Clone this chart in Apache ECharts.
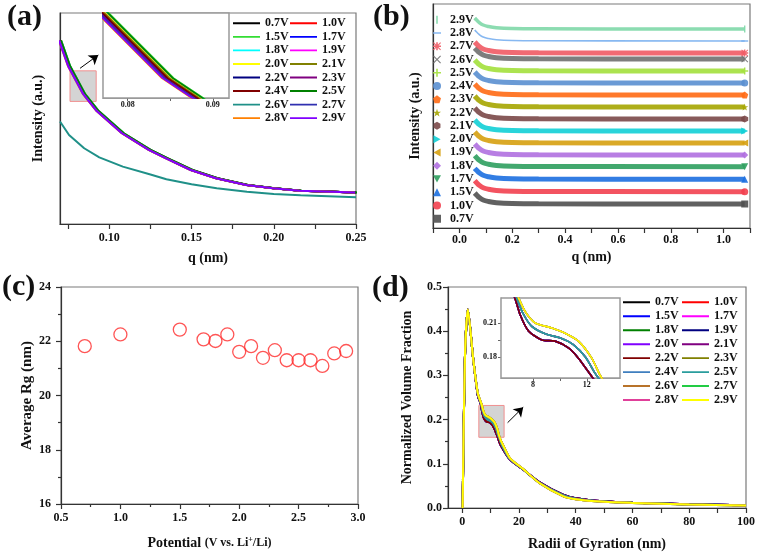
<!DOCTYPE html>
<html><head><meta charset="utf-8">
<script src="https://cdn.jsdelivr.net/npm/echarts@6/dist/echarts.min.js"></script>
<style>html,body{margin:0;padding:0;background:#fff}#c{width:765px;height:557px}</style>
</head><body><div id="c"></div>
<script>
// ---------- shared ----------
const VOLTS = ['0.7V','1.0V','1.5V','1.7V','1.8V','1.9V','2.0V','2.1V','2.2V','2.3V','2.4V','2.5V','2.6V','2.7V','2.8V','2.9V'];

// ---------- (a) SAXS curves ----------
const qA   = [0.07, 0.0755, 0.0847, 0.0929, 0.1082, 0.1245, 0.1347, 0.15, 0.1653, 0.1837, 0.20, 0.2163, 0.25];
const yA   = [87, 74.9, 61.5, 53.5, 43.0, 35.1, 31.2, 25.6, 21.7, 18.5, 16.9, 15.8, 14.9];
const qA26 = [0.07, 0.0755, 0.0847, 0.0939, 0.1082, 0.1245, 0.1347, 0.15, 0.1653, 0.1837, 0.20, 0.2163, 0.25];
const yA26 = [48.6, 42.2, 35.9, 31.6, 27.2, 23.6, 21.2, 18.8, 16.9, 15.3, 14.2, 13.6, 12.7];
// small horizontal offsets of each curve
const shiftA = [-0.0001, 0.0001, 0.0007, 0.0004, 0.0005, 0.0003, 0.0003, 0.0002, -0.0002, -0.0003, 0, 0.0006, 0, -0.0004, -0.0007, -0.0006];
const colorsA = ['#000000','#ff0000','#33dd33','#0000ff','#00ffff','#ff00ff','#ffff00','#808000','#000080','#800080','#800000','#008000','#1f9088','#3030b0','#ff8000','#8000ff'];
const ticksA = [0.075, 0.1, 0.125, 0.15, 0.175, 0.2, 0.225, 0.25];
const labelsA = [0.10, 0.15, 0.20, 0.25];

// ---------- (b) stacked curves ----------
const qB  = [0.058, 0.065, 0.075, 0.09, 0.11, 0.14, 0.2, 0.3, 1.08];
const b07 = [35, 33, 30.5, 28, 26.5, 25.3, 24.5, 24.2, 24];
const b10 = [47.3, 45.3, 42.8, 40.3, 38.8, 37.6, 36.8, 36.5, 36.3];
const b15 = [59.7, 57.7, 55.2, 52.7, 51.2, 50, 49.2, 48.9, 48.7];
const b17 = [72.3, 70.3, 67.8, 65.3, 63.8, 62.6, 61.8, 61.5, 61.3];
const b18 = [84, 82, 79.5, 77, 75.5, 74.3, 73.5, 73.2, 73];
const b19 = [96, 94, 91.5, 89, 87.5, 86.3, 85.5, 85.2, 85];
const b20 = [108, 106, 103.5, 101, 99.5, 98.3, 97.5, 97.2, 97];
const b21 = [120, 118, 115.5, 113, 111.5, 110.3, 109.5, 109.2, 109];
const b22 = [132, 130, 127.5, 125, 123.5, 122.3, 121.5, 121.2, 121];
const b23 = [144, 142, 139.5, 137, 135.5, 134.3, 133.5, 133.2, 133];
const b24 = [156, 154, 151.5, 149, 147.5, 146.3, 145.5, 145.2, 145];
const b25 = [168, 166, 163.5, 161, 159.5, 158.3, 157.5, 157.2, 157];
const b26 = [180, 178, 175.5, 173, 171.5, 170.3, 169.5, 169.2, 169];
const b27 = [186, 184, 181.5, 179, 177.5, 176.3, 175.5, 175.2, 175];
const b28 = [198, 196, 193.5, 191, 189.5, 188.3, 187.5, 187.2, 187];
const b29 = [210, 208, 205.5, 203, 201.5, 200.3, 199.5, 199.2, 199];
const yB = [b07, b10, b15, b17, b18, b19, b20, b21, b22, b23, b24, b25, b26, b27, b28, b29];
const colorsB = ['#505050','#f2404f','#1c6fe0','#2e9e5e','#b070e0','#d6a010','#12cfd6','#7a4848','#a5a500','#ff6a14','#5a8fd0','#a3e03c','#707070','#f05a64','#7ab0f0','#80d8a8'];
const widthB = [5,5,5,5,5,5,5,5,5,5,5,5,5,5,1.6,3.5];
const ticksB = [-0.1, 0, 0.1, 0.2, 0.3, 0.4, 0.5, 0.6, 0.7, 0.8, 0.9, 1.0, 1.1];
const labelsB = [0, 0.2, 0.4, 0.6, 0.8, 1.0];

// ---------- (c) average Rg ----------
const potC = [0.7, 1.0, 1.5, 1.7, 1.8, 1.9, 2.0, 2.1, 2.2, 2.3, 2.4, 2.5, 2.6, 2.7, 2.8, 2.9];
const rgC  = [21.82, 22.25, 22.43, 22.07, 22.01, 22.25, 21.61, 21.82, 21.39, 21.67, 21.30, 21.30, 21.30, 21.09, 21.55, 21.64];

// ---------- (d) size distributions ----------
const dLowX  = [0.15, 0.95, 2.0, 3.9, 5.5, 6.56, 7.06, 7.67, 8.67, 9.65, 10.64, 11.38, 12.12, 12.6, 13.5, 16.8, 21.5, 27.3, 35.5, 40, 50, 60, 80, 100];
const dLowY  = [0, 0.336, 0.449, 0.336, 0.255, 0.235, 0.217, 0.203, 0.195, 0.194, 0.188, 0.179, 0.167, 0.159, 0.143, 0.110, 0.087, 0.058, 0.030, 0.022, 0.015, 0.012, 0.0083, 0.006];
const dMidX  = [0.15, 0.95, 2.0, 3.9, 5.5, 6.68, 7.24, 7.92, 9.0, 10.0, 11.0, 11.9, 12.6, 13.2, 14.0, 16.8, 21.5, 27.3, 35.5, 40, 50, 60, 80, 100];
const dMidY  = [0, 0.336, 0.449, 0.336, 0.258, 0.235, 0.219, 0.207, 0.200, 0.197, 0.191, 0.180, 0.166, 0.156, 0.142, 0.111, 0.087, 0.057, 0.029, 0.021, 0.0145, 0.012, 0.0082, 0.006];
const dHighX = [0.15, 0.95, 2.0, 3.9, 5.5, 6.81, 7.43, 8.17, 9.41, 10.39, 11.38, 12.37, 12.99, 13.6, 14.5, 16.8, 21.5, 27.3, 35.5, 40, 50, 60, 80, 100];
const dHighY = [0, 0.336, 0.449, 0.336, 0.260, 0.235, 0.220, 0.210, 0.2056, 0.201, 0.194, 0.179, 0.164, 0.153, 0.141, 0.113, 0.088, 0.056, 0.027, 0.020, 0.014, 0.0115, 0.008, 0.0058];
const groupD = ['low','low','low','mid','mid','low','low','mid','low','high','mid','mid','high','high','high','high'];
const colorsD = ['#000000','#ff0000','#0000ff','#ff00ff','#008000','#000080','#8000ff','#800080','#800000','#808000','#3f7fbf','#2a9d9d','#b8732a','#22cc44','#e0409a','#ffff00'];
const ticksD = [0, 10, 20, 30, 40, 50, 60, 70, 80, 90, 100];
const labelsD = [0, 20, 40, 60, 80, 100];

// ---------- styling helpers ----------
const FONT = '"Liberation Serif","Times New Roman",serif';
const AX = '#333';
const lbl = (size) => ({fontFamily: FONT, fontWeight: 'bold', fontSize: size, color: '#111'});
function axisBase(extra) {
  return Object.assign({
    type: 'value',
    axisLine: {show: true, onZero: false, lineStyle: {color: AX, width: 1.2}},
    axisTick: {show: true, inside: false, length: 5, lineStyle: {color: AX, width: 1.2}},
    axisLabel: Object.assign({margin: 8}, lbl(12)),
    splitLine: {show: false},
    nameLocation: 'middle',
    nameTextStyle: lbl(14)
  }, extra);
}

const symB = [
  'rect', 'circle', 'triangle',
  'path://M0,0L10,0L5,9Z',
  'diamond',
  'path://M10,0L10,10L1,5Z',
  'path://M0,0L9,5L0,10Z',
  'path://M5,0L9.33,2.5L9.33,7.5L5,10L0.67,7.5L0.67,2.5Z',
  'path://M5,0L6.2,3.6L10,3.6L7,5.9L8.1,9.5L5,7.3L1.9,9.5L3,5.9L0,3.6L3.8,3.6Z',
  'path://M5,0L10,3.8L8.1,10L1.9,10L0,3.8Z',
  'circle',
  'path://M4,0H6V4H10V6H6V10H4V6H0V4H4Z',
  'path://M1,0L5,4L9,0L10,1L6,5L10,9L9,10L5,6L1,10L0,9L4,5L0,1Z',
  'path://M1,0L5,4L9,0L10,1L6,5L10,9L9,10L5,6L1,10L0,9L4,5L0,1Z M4,0H6V10H4Z M0,4H10V6H0Z',
  'path://M0,0L0.05,0L0,0.05Z M0,4H10V6H0Z M10,10L9.95,10L10,9.95Z',
  'path://M0,0L0.05,0L0,0.05Z M4,0H6V10H4Z M10,10L9.95,10L10,9.95Z'
];
// plain line legend icon (bar across the item, with tiny corner specks to keep the box)
const LINE_ICON = 'path://M0,0L0.01,0L0,0.01Z M0,4.2H10V5.8H0Z M10,10L9.99,10L10,9.99Z';

const series = [];
// (a) main + inset
VOLTS.forEach((v, i) => {
  const is26 = v === '2.6V';
  const xs = is26 ? qA26 : qA, ys = is26 ? yA26 : yA;
  const data = xs.map((q, j) => [q + shiftA[i], ys[j]]);
  series.push({type: 'line', name: 'a_' + v, xAxisIndex: 0, yAxisIndex: 0, data, symbol: 'none', z: 2,
    color: colorsA[i], itemStyle: {color: colorsA[i]}, lineStyle: {width: 2, color: colorsA[i]}});
  series.push({type: 'line', name: 'ai_' + v, xAxisIndex: 1, yAxisIndex: 1, data, symbol: 'none', z: 3,
    color: colorsA[i], lineStyle: {width: 1.6, color: colorsA[i]}});
});
// (a) zoom box + arrow
series.push({type: 'line', name: 'a_box', xAxisIndex: 0, yAxisIndex: 0, data: [], z: 1, silent: true,
  markArea: {silent: true, itemStyle: {color: 'rgba(205,205,205,0.85)', borderColor: '#f09090', borderWidth: 1},
    data: [[{coord: [0.0761, 72.6]}, {coord: [0.092, 58.1]}]]},
  markLine: {silent: true, symbol: ['none', 'arrow'], symbolSize: 9, label: {show: false},
    lineStyle: {color: '#000', width: 1, type: 'solid'},
    data: [[{coord: [0.0822, 73.8]}, {coord: [0.0933, 80.1]}]]}
});

// (b)
VOLTS.forEach((v, i) => {
  const last = qB.length - 1;
  const data = qB.map((q, j) => j === last ? {value: [q, yB[i][j]], symbolSize: 7} : [q, yB[i][j]]);
  series.push({type: 'line', name: 'b_' + v, xAxisIndex: 2, yAxisIndex: 2, data, smooth: 0.4,
    symbol: symB[i], symbolSize: 0, showSymbol: true, showAllSymbol: true,
    color: colorsB[i], itemStyle: {color: colorsB[i], opacity: 0.9},
    lineStyle: {width: widthB[i], color: colorsB[i], opacity: 0.9}});
});

// (c)
series.push({type: 'scatter', name: 'c_rg', xAxisIndex: 3, yAxisIndex: 3,
  data: potC.map((p, i) => [p, rgC[i]]), symbol: 'circle', symbolSize: 13,
  itemStyle: {color: 'rgba(255,255,255,0)', borderColor: '#ff2a2a', borderWidth: 1.3}});

// (d) main + inset
const groups = {low: [dLowX, dLowY], mid: [dMidX, dMidY], high: [dHighX, dHighY]};
VOLTS.forEach((v, i) => {
  const g = groups[groupD[i]];
  const data = g[0].map((x, j) => [x, g[1][j]]);
  series.push({type: 'line', name: 'd_' + v, xAxisIndex: 4, yAxisIndex: 4, data, symbol: 'none', z: 2,
    smooth: 0.25, color: colorsD[i], itemStyle: {color: colorsD[i]}, lineStyle: {width: 2, color: colorsD[i]}});
  series.push({type: 'line', name: 'di_' + v, xAxisIndex: 5, yAxisIndex: 5, data, symbol: 'none', z: 3,
    smooth: 0.25, color: colorsD[i], lineStyle: {width: 1.6, color: colorsD[i]}});
});
series.push({type: 'line', name: 'd_box', xAxisIndex: 4, yAxisIndex: 4, data: [], z: 1, silent: true,
  markArea: {silent: true, itemStyle: {color: 'rgba(205,205,205,0.85)', borderColor: '#f09090', borderWidth: 1},
    data: [[{coord: [5.86, 0.232]}, {coord: [14.77, 0.160]}]]},
  markLine: {silent: true, symbol: ['none', 'arrow'], symbolSize: 9, label: {show: false},
    lineStyle: {color: '#000', width: 1, type: 'solid'},
    data: [[{coord: [16.0, 0.193]}, {coord: [21.5, 0.228]}]]}
});

const fmtName = n => n.split('_')[1];
function lineLegend(prefix, idxs, left, top, gap) {
  return {orient: 'vertical', left, top, padding: 0, itemWidth: 27, itemHeight: 12, itemGap: gap,
    symbolKeepAspect: false,
    selectedMode: false, formatter: fmtName,
    textStyle: Object.assign({lineHeight: 12}, lbl(12)),
    data: idxs.map(i => ({name: prefix + VOLTS[i], icon: LINE_ICON}))};
}
const col1 = [0, 2, 4, 6, 8, 10, 12, 14], col2 = [1, 3, 5, 7, 9, 11, 13, 15];
const legendB = {orient: 'vertical', left: 433, top: 13.7, padding: 0, itemWidth: 8, itemHeight: 8, itemGap: 1.27,
  selectedMode: false, formatter: fmtName,
  textStyle: Object.assign({lineHeight: 12, padding: [0, 0, 0, 4]}, lbl(12)),
  data: VOLTS.map((v, i) => ({name: 'b_' + v, icon: symB[i]})).reverse()};

const gridStyle = {show: true, borderColor: '#7a7a7a', borderWidth: 1.2, backgroundColor: 'rgba(0,0,0,0)'};
const insetStyle = {show: true, borderColor: '#9a9a9a', borderWidth: 1.5, backgroundColor: '#fff'};

const option = {
  animation: false,
  backgroundColor: '#fff',
  grid: [
    Object.assign({left: 60, top: 13, width: 296, height: 211}, gridStyle),
    Object.assign({left: 103, top: 13, width: 126, height: 85, z: 3}, insetStyle),
    Object.assign({left: 433, top: 4, width: 317, height: 224}, gridStyle),
    Object.assign({left: 61, top: 287, width: 297, height: 217}, gridStyle),
    Object.assign({left: 448, top: 287, width: 298, height: 221}, gridStyle),
    Object.assign({left: 501, top: 298, width: 119, height: 80, z: 3}, insetStyle)
  ],
  xAxis: [
    axisBase({gridIndex: 0, min: 0.07, max: 0.25, name: 'q (nm)', nameGap: 27,
      axisLabel: Object.assign({margin: 8, customValues: labelsA, formatter: v => v.toFixed(2)}, lbl(12)),
      axisTick: {show: true, length: 5, customValues: ticksA, lineStyle: {color: AX, width: 1.2}}}),
    axisBase({gridIndex: 1, min: 0.0771, max: 0.0919,
      axisLine: {show: true, onZero: false, lineStyle: {color: '#9a9a9a', width: 1.2}},
      axisLabel: Object.assign({margin: 3, customValues: [0.08, 0.09], formatter: v => v.toFixed(2)}, lbl(8)),
      axisTick: {show: true, length: 3, customValues: [0.08, 0.085, 0.09], lineStyle: {color: '#666', width: 1}}}),
    axisBase({gridIndex: 2, min: -0.1, max: 1.1, name: 'q (nm)', nameGap: 22,
      axisLabel: Object.assign({margin: 6, customValues: labelsB, formatter: v => v.toFixed(1)}, lbl(12)),
      axisTick: {show: true, length: 5, customValues: ticksB, lineStyle: {color: AX, width: 1.2}}}),
    axisBase({gridIndex: 3, min: 0.5, max: 3.0, interval: 0.5, nameGap: 32,
      name: '{a|Potential }{b|(V vs. Li}{s|+}{b|/Li)}',
      nameTextStyle: {rich: {a: lbl(14), b: lbl(12), s: Object.assign({verticalAlign: 'top', lineHeight: 8}, lbl(8))}},
      axisLabel: Object.assign({margin: 8, formatter: v => v.toFixed(1)}, lbl(12)),
      minorTick: {show: true, splitNumber: 2, length: 3, lineStyle: {color: AX, width: 1.2}}}),
    axisBase({gridIndex: 4, min: -5, max: 100, name: 'Radii of Gyration (nm)', nameGap: 29,
      axisLabel: Object.assign({margin: 8, customValues: labelsD}, lbl(12)),
      axisTick: {show: true, length: 5, customValues: ticksD, lineStyle: {color: AX, width: 1.2}}}),
    axisBase({gridIndex: 5, min: 5.63, max: 14.47,
      axisLine: {show: true, onZero: false, lineStyle: {color: '#9a9a9a', width: 1.2}},
      axisLabel: Object.assign({margin: 3, customValues: [8, 12]}, lbl(8)),
      axisTick: {show: true, length: 3, customValues: [8, 10, 12], lineStyle: {color: '#666', width: 1}}})
  ],
  yAxis: [
    axisBase({gridIndex: 0, min: 0, max: 100, name: 'Intensity (a.u.)', nameGap: 15,
      axisLabel: {show: false}, axisTick: {show: false}}),
    axisBase({gridIndex: 1, min: 58.1, max: 72.6, axisLabel: {show: false}, axisTick: {show: false},
      axisLine: {show: true, onZero: false, lineStyle: {color: '#9a9a9a', width: 1.2}}}),
    axisBase({gridIndex: 2, min: 0, max: 224, name: 'Intensity (a.u.)', nameGap: 11,
      axisLabel: {show: false}, axisTick: {show: false}}),
    axisBase({gridIndex: 3, min: 16, max: 24, interval: 2, name: 'Average Rg (nm)', nameGap: 21,
      axisLabel: Object.assign({margin: 10}, lbl(12)),
      nameTextStyle: lbl(15),
      minorTick: {show: true, splitNumber: 2, length: 3, lineStyle: {color: AX, width: 1.2}}}),
    axisBase({gridIndex: 4, min: 0, max: 0.5, interval: 0.1, name: 'Normalized Volume Fraction', nameGap: 34,
      axisLabel: Object.assign({margin: 6, formatter: v => v.toFixed(1)}, lbl(12)),
      minorTick: {show: true, splitNumber: 2, length: 3, lineStyle: {color: AX, width: 1.2}}}),
    axisBase({gridIndex: 5, min: 0.1615, max: 0.232,
      axisLine: {show: true, onZero: false, lineStyle: {color: '#9a9a9a', width: 1.2}},
      axisLabel: Object.assign({margin: 4, customValues: [0.18, 0.21], formatter: v => v.toFixed(2)}, lbl(8)),
      axisTick: {show: true, length: 3, customValues: [0.18, 0.195, 0.21], lineStyle: {color: '#666', width: 1}}})
  ],
  legend: [
    lineLegend('a_', col1, 233, 17.3, 1.55),
    lineLegend('a_', col2, 290, 17.3, 1.55),
    legendB,
    lineLegend('d_', col1, 623, 296.3, 1.96),
    lineLegend('d_', col2, 682, 296.3, 1.96)
  ],
  graphic: [
    {type: 'text', left: 7, top: 2, style: {text: '(a)', font: 'bold 30px "Liberation Serif"', fill: '#111'}},
    {type: 'text', left: 373, top: 2, style: {text: '(b)', font: 'bold 30px "Liberation Serif"', fill: '#111'}},
    {type: 'text', left: 2, top: 272, style: {text: '(c)', font: 'bold 30px "Liberation Serif"', fill: '#111'}},
    {type: 'text', left: 372, top: 273, style: {text: '(d)', font: 'bold 30px "Liberation Serif"', fill: '#111'}}
  ],
  series
};
const chart = echarts.init(document.getElementById('c'), null, {renderer: 'canvas'});
chart.setOption(option);
</script>
</body></html>
